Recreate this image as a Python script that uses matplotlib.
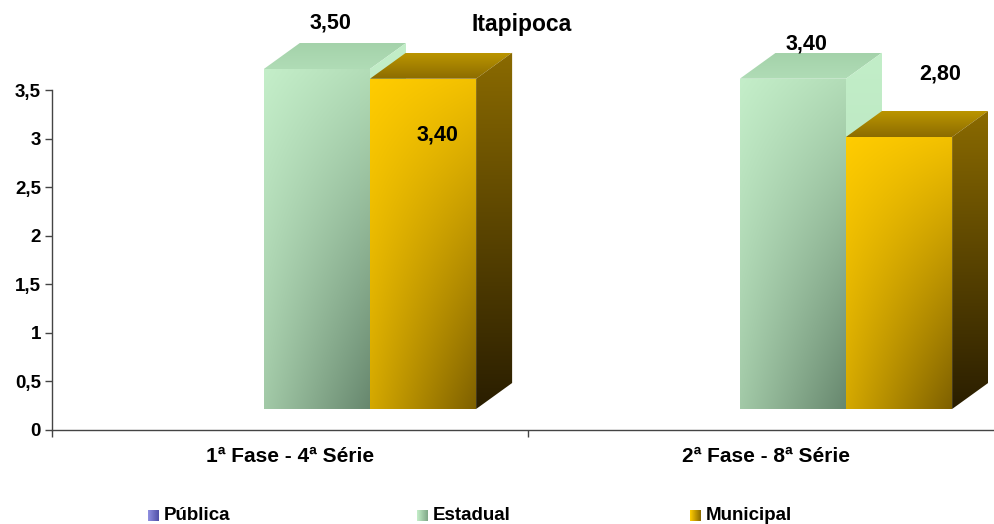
import numpy as np
import matplotlib
matplotlib.use("Agg")
import matplotlib.pyplot as plt
from matplotlib.patches import Polygon

plt.rcParams["font.family"] = ["Liberation Sans", "DejaVu Sans"]
plt.rcParams["font.weight"] = "bold"

# data
categories = ["1ª Fase - 4ª Série", "2ª Fase - 8ª Série"]
series = ["Pública", "Estadual", "Municipal"]
publica = [None, None]
estadual = [3.50, 3.40]
municipal = [3.40, 2.80]
yticks = [0, 0.5, 1, 1.5, 2, 2.5, 3, 3.5]

# styling
W, H = 994, 524
PX_X = 1 / 476          # data units per pixel, x
PX_Y = 3.5 / 340        # data units per pixel, y
BASE = 21 * PX_Y        # bars start slightly above the axis (3d floor)
DX, DY = 36 * PX_X, 26 * PX_Y
BAR_W = 0.223

# corner colours: front (tl, tr, bl, br), top (front, back), side (top, bottom)
faces = {
    "Estadual": {
        "front": ("#c4eec9", "#b2dcb7", "#a2c9a7", "#67876e"),
        "top": ("#b0dcb6", "#a4d2aa"),
        "side": ("#c2eec8", "#b4dcba"),
    },
    "Municipal": {
        "front": ("#ffcc00", "#f2c000", "#d4a800", "#7e6000"),
        "top": ("#8c6c00", "#bb9500"),
        "side": ("#8a6a00", "#2a1e00"),
    },
}
legend_colors = {"Pública": ("#9090e0", "#5050a8"),
                 "Estadual": ("#c4eec9", "#80a888"),
                 "Municipal": ("#ffcc00", "#8a6a00")}

# label offsets in pixels from the back-top centre of each bar
label_off = {("Estadual", 0): (-4, 20), ("Municipal", 0): (-4, -82),
             ("Estadual", 1): (-4, 9), ("Municipal", 1): (23, 37)}


def rgb(c):
    return np.array(matplotlib.colors.to_rgb(c))


def gradient_poly(ax, verts, tl, tr, bl, br, z=2):
    verts = np.asarray(verts)
    x0, y0 = verts.min(axis=0)
    x1, y1 = verts.max(axis=0)
    n = 80
    u = np.linspace(0, 1, n)[None, :, None]
    v = np.linspace(0, 1, n)[:, None, None]
    top = rgb(tl) * (1 - u) + rgb(tr) * u
    bot = rgb(bl) * (1 - u) + rgb(br) * u
    img = top * (1 - v) + bot * v
    im = ax.imshow(img, extent=(x0, x1, y0, y1), origin="upper",
                   interpolation="bilinear", aspect="auto", zorder=z)
    poly = Polygon(verts, closed=True, facecolor="none", edgecolor="none",
                   transform=ax.transData)
    ax.add_patch(poly)
    im.set_clip_path(poly)


def draw_bar(ax, left, value, sty, z):
    r = left + BAR_W
    top = BASE + value
    f = sty["front"]
    gradient_poly(ax, [(left, BASE), (r, BASE), (r, top), (left, top)],
                  f[0], f[1], f[2], f[3], z)
    t = sty["top"]
    gradient_poly(ax, [(left, top), (r, top), (r + DX, top + DY), (left + DX, top + DY)],
                  t[1], t[1], t[0], t[0], z)
    s = sty["side"]
    gradient_poly(ax, [(r, BASE), (r + DX, BASE + DY), (r + DX, top + DY), (r, top)],
                  s[0], s[0], s[1], s[1], z)


fig = plt.figure(figsize=(W / 100, H / 100), dpi=100)
ax = fig.add_axes([52 / W, 94 / H, 952 / W, 430 / H])
ax.set_xlim(0, 2)
ax.set_ylim(0, 430 * PX_Y)

values = {"Pública": publica, "Estadual": estadual, "Municipal": municipal}
z = 2
for ci in range(len(categories)):
    center = ci + 0.5
    for si, name in enumerate(series):
        val = values[name][ci]
        if val is None:
            continue
        left = center - 0.278 + si * BAR_W
        draw_bar(ax, left, val, faces[name], z)
        z += 1
        ox, oy = label_off[(name, ci)]
        ax.annotate(f"{val:.2f}".replace(".", ","),
                    (left + BAR_W / 2 + DX / 2, BASE + val + DY),
                    xytext=(ox, oy), textcoords="offset pixels",
                    ha="center", va="center", fontsize=15.5, fontweight="bold",
                    zorder=20)

for sp in ("top", "right"):
    ax.spines[sp].set_visible(False)
ax.spines["left"].set_bounds(0, 3.5)
for sp in ("left", "bottom"):
    ax.spines[sp].set_color("#444444")
    ax.spines[sp].set_linewidth(1)

ax.set_yticks(yticks)
ax.set_yticklabels([f"{v:g}".replace(".", ",") for v in yticks])
ax.tick_params(axis="y", direction="out", length=5, width=1, color="#444444",
               pad=3, labelsize=13.5)
ax.set_xticks([0, 1, 2])
ax.set_xticklabels([])
ax.tick_params(axis="x", which="major", direction="out", length=5, width=1,
               color="#444444")
ax.set_xticks([0.5, 1.5], minor=True)
ax.set_xticklabels(categories, minor=True)
ax.tick_params(axis="x", which="minor", length=0, pad=12, labelsize=15)
for lab in ax.get_xticklabels(minor=True) + ax.get_yticklabels():
    lab.set_fontweight("bold")

fig.text(522 / W, 1 - 25 / H, "Itapipoca", ha="center", va="center",
         fontsize=16.5, fontweight="bold")

# legend
leg_x = {"Pública": 148, "Estadual": 417, "Municipal": 690}
for name in series:
    x = leg_x[name]
    c1, c2 = legend_colors[name]
    lax = fig.add_axes([x / W, (H - 521) / H, 11 / W, 11 / H])
    g = np.linspace(0, 1, 32)[None, :, None]
    lax.imshow(g * rgb(c2) + (1 - g) * rgb(c1),
               aspect="auto", interpolation="bilinear")
    lax.axis("off")
    fig.text((x + 16) / W, 1 - 515 / H, name, ha="left", va="center",
             fontsize=13.5, fontweight="bold")

fig.savefig("out.png", dpi=100)
